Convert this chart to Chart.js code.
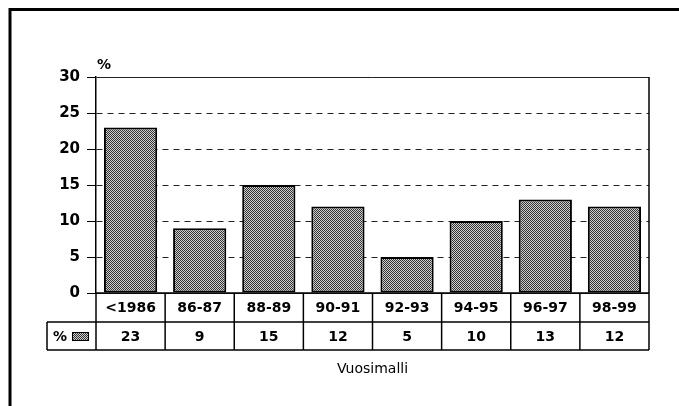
<!DOCTYPE html>
<html>
<head>
<meta charset="utf-8">
<script src="https://cdn.jsdelivr.net/npm/chart.js@4.4.0/dist/chart.umd.min.js"></script>
<style>
body { margin: 0; background: #fff; }
</style>
</head>
<body>
<canvas id="myChart" width="679" height="406"></canvas>
<script>
// data
var categories = ['<1986', '86-87', '88-89', '90-91', '92-93', '94-95', '96-97', '98-99'];
var values = [23, 9, 15, 12, 5, 10, 13, 12];
var yMin = 0;
var yMax = 30;
var yStep = 5;
var yTitle = '%';
var seriesLabel = '%';
var xTitle = 'Vuosimalli';

var FONT = 'DejaVu Sans';

var ctx = document.getElementById('myChart').getContext('2d');

// halftone-ish fill like the scanned bars
function makePattern() {
  var c = document.createElement('canvas');
  c.width = 4;
  c.height = 4;
  var p = c.getContext('2d');
  p.fillStyle = '#cfcfcf';
  p.fillRect(0, 0, 4, 4);
  p.fillStyle = '#333';
  for (var y = 0; y < 4; y++) {
    for (var x = 0; x < 4; x++) {
      if ((x + y) % 2 == 0) p.fillRect(x, y, 1, 1);
    }
  }
  return ctx.createPattern(c, 'repeat');
}
var barFill = makePattern();

// table under the plot, titles and the outer frame
var tablePlugin = {
  id: 'tablePlugin',
  afterDraw: function(chart) {
    var c = chart.ctx;
    var xs = chart.scales.x;
    var ys = chart.scales.y;
    var area = chart.chartArea;
    var step = xs.getPixelForValue(1) - xs.getPixelForValue(0);
    var y0 = ys.getPixelForValue(0);
    var row1 = y0 + 29;
    var row2 = row1 + 28;
    var legendLeft = 47;

    c.save();
    c.strokeStyle = '#000';
    c.lineWidth = 1.5;

    // right edge of plot + table
    c.beginPath();
    c.moveTo(area.right, area.top);
    c.lineTo(area.right, row2);
    c.stroke();

    // horizontal lines of the table
    c.beginPath();
    c.moveTo(area.left, y0);
    c.lineTo(area.right, y0);
    c.moveTo(legendLeft, row1);
    c.lineTo(area.right, row1);
    c.moveTo(legendLeft, row2);
    c.lineTo(area.right, row2);
    c.moveTo(legendLeft, row1);
    c.lineTo(legendLeft, row2);
    c.stroke();

    c.fillStyle = '#000';
    c.font = 'bold 14px "' + FONT + '"';
    c.textAlign = 'center';
    c.textBaseline = 'middle';
    for (var i = 0; i < categories.length; i++) {
      var cx = xs.getPixelForValue(i);
      c.beginPath();
      c.moveTo(cx - step / 2, y0);
      c.lineTo(cx - step / 2, row2);
      c.stroke();
      c.fillText(categories[i], cx, (y0 + row1) / 2 + 1);
      c.fillText(String(values[i]), cx, (row1 + row2) / 2 + 1);
    }

    // legend cell
    c.fillText(seriesLabel, 60, (row1 + row2) / 2 + 1);
    c.fillStyle = barFill;
    c.fillRect(72, row1 + 10, 17, 9);
    c.lineWidth = 1;
    c.strokeRect(72.5, row1 + 10.5, 16, 8);

    // axis titles
    c.fillStyle = '#000';
    c.fillText(yTitle, area.left + 8, area.top - 12);
    c.font = '14px "' + FONT + '"';
    c.fillText(xTitle, (area.left + area.right) / 2, row2 + 19);

    // outer frame (only top and left survive in the scan)
    c.lineWidth = 3;
    c.beginPath();
    c.moveTo(10, 406);
    c.lineTo(10, 9.5);
    c.lineTo(679, 9.5);
    c.stroke();
    c.restore();
  }
};

var chart = new Chart(ctx, {
  type: 'bar',
  data: {
    labels: categories,
    datasets: [{
      label: seriesLabel,
      data: values,
      backgroundColor: barFill,
      borderColor: '#000',
      borderWidth: 2,
      borderSkipped: false,
      categoryPercentage: 1,
      barPercentage: 0.77
    }]
  },
  options: {
    responsive: false,
    animation: false,
    layout: {
      padding: { left: 46, top: 77, right: 30, bottom: 113 }
    },
    plugins: {
      legend: { display: false },
      tooltip: { enabled: false }
    },
    scales: {
      x: {
        display: false
      },
      y: {
        min: yMin,
        max: yMax,
        afterFit: function(scale) { scale.width = 50; },
        ticks: {
          stepSize: yStep,
          color: '#000',
          padding: 7,
          font: { family: FONT, size: 15, weight: 'bold' }
        },
        grid: {
          color: '#222',
          lineWidth: 1,
          tickLength: 9,
          tickColor: '#000',
          tickBorderDash: []
        },
        border: {
          display: true,
          color: '#000',
          width: 1.5,
          dash: function(c) {
            if (!c.tick) return [];
            if (c.tick.value == yMin || c.tick.value == yMax) return [];
            return [6, 5];
          }
        }
      }
    }
  },
  plugins: [tablePlugin]
});
</script>
</body>
</html>
